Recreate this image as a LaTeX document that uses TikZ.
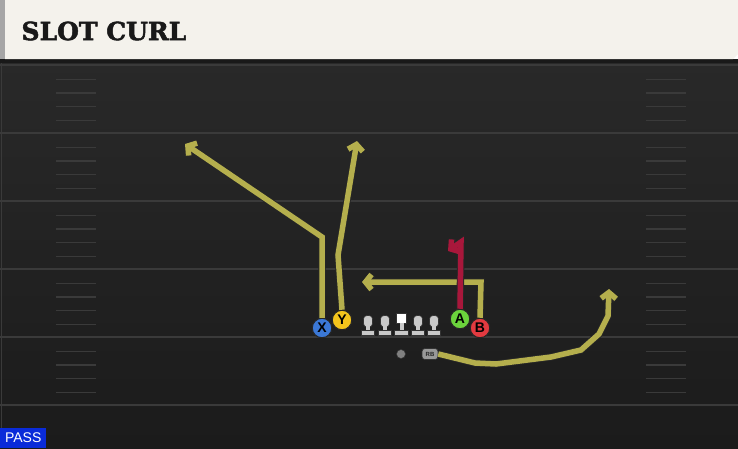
\documentclass[tikz,border=0pt]{standalone}
\usepackage{fontspec}
\setmainfont{DejaVu Serif}
\newfontfamily\titlefont[BoldFeatures={FakeBold=2}]{DejaVu Serif}
\newfontfamily\labelfont{Liberation Sans}
\usepackage{xcolor}
\usepackage{tikz}
\usetikzlibrary{arrows.meta,calc,backgrounds}

\definecolor{fieldtop}{HTML}{292929}
\definecolor{fieldbot}{HTML}{1B1B1B}
\definecolor{yardline}{HTML}{3A3A3A}
\definecolor{headercream}{HTML}{F4F2EC}
\definecolor{routeyellow}{HTML}{B5AF4D}
\definecolor{routered}{HTML}{A8173B}
\definecolor{xblue}{HTML}{3B78D6}
\definecolor{yyellow}{HTML}{F3C41C}
\definecolor{agreen}{HTML}{6BD33C}
\definecolor{bred}{HTML}{E23A40}
\definecolor{passblue}{HTML}{0A2BD9}
\definecolor{linegray}{HTML}{C9C9C9}

\begin{document}
\begin{tikzpicture}[x=1pt,y=-1pt]
        % Define the styles for players and routes
        \tikzstyle{player}=[circle, minimum size=19.5pt, inner sep=0pt, draw=black!85, line width=1pt, font=\labelfont\bfseries\fontsize{14}{14}\selectfont];
        \tikzstyle{route}=[draw=routeyellow, line width=5.5pt, line join=miter, preaction={draw=black!85, line width=7.3pt}, -{Straight Barb[length=6pt,width=15pt]}];
        \tikzstyle{hotroute}=[route, draw=routered];
        
        % Fix the size of the picture
        \useasboundingbox (0,0) rectangle (738,448);
        
        % Draw the field and the header
        \shade[top color=fieldtop, bottom color=fieldbot] (0,59) rectangle (738,448);
        \fill[black!90] (0,59) rectangle (738,63);
        \fill[headercream] (5,0) -- (738,0) -- (738,54) -- (733,59) -- (5,59) -- cycle;
        \fill[black!35] (0,0) rectangle (5,59);
        \draw[yardline, line width=1pt] (1,63) -- (1,448);
        
        % Yard lines and hash marks
        \foreach \y in {65,133,201,269,337,405}
            \draw[yardline, line width=2pt] (0,\y) -- (738,\y);
        \foreach \y in {65,133,201,269,337}
            \foreach \d in {14.5,28,41.5,55.5} {
                \draw[yardline, line width=1.5pt] (56,\y+\d) -- (96,\y+\d);
                \draw[yardline, line width=1.5pt] (646,\y+\d) -- (686,\y+\d);
            }
        
        % Title of the play
        \node[anchor=west, text=black!90, font=\titlefont\bfseries\fontsize{25}{25}\selectfont] (title) at (18,31) {SLOT CURL};
        
        % Offensive line
        \foreach \x in {368,385,418,434} {
            \fill[linegray, draw=black!80, line width=0.6pt, rounded corners=3.5pt] (\x-4.5,315.5) rectangle (\x+4.5,327);
            \fill[linegray] (\x-2,326) rectangle (\x+2,330.5);
            \fill[linegray, draw=black!80, line width=0.6pt] (\x-6.5,330) rectangle (\x+6.5,335);
        }
        \fill[white, draw=black!80, line width=0.6pt] (396.5,313) rectangle (406.5,323);
        \fill[linegray] (399.5,323) rectangle (403.5,330.5);
        \fill[linegray, draw=black!80, line width=0.6pt] (394.5,330) rectangle (408.5,335);
        
        % Quarterback and running back
        \node[circle, fill=black!50, draw=black!80, line width=0.5pt, minimum size=9pt, inner sep=0pt] (QB) at (401,354) {};
        \node[fill=black!40, draw=black!80, line width=0.6pt, rounded corners=3pt, minimum width=16pt, minimum height=11pt, inner sep=0pt, font=\labelfont\bfseries\fontsize{6}{6}\selectfont, text=black!85] (RB) at (430,354) {RB};
        
        % Receivers
        \node[player, fill=xblue] (X) at (322,328) {X};
        \node[player, fill=yyellow] (Y) at (342,320) {Y};
        \node[player, fill=agreen] (A) at (460,319) {A};
        \node[player, fill=bred] (B) at (480,328) {B};
        
        % Corners and ends of the routes
        \coordinate (xcut) at (322,237);
        \coordinate (xend) at (185,144);
        \coordinate (ybend) at (338,255);
        \coordinate (yend) at (357,141);
        \coordinate (bcut) at (481,282);
        \coordinate (bend) at (362,282);
        \coordinate (atop) at (461,242);
        \coordinate (aend) at (448,251);
        \coordinate (rbend) at (609,289);
        
        % Routes
        \draw[route] (X.north) -- (xcut) -- (xend);
        \draw[route] (Y.north) -- (ybend) -- (yend);
        \draw[route] (B.north) -- (bcut) -- (bend);
        \draw[hotroute] (A.north) -- (atop) -- (aend);
        \draw[route] (RB.east) -- (475,363) -- (496,364) -- (551,357) -- (581,350) -- (599,334) -- (608,316) -- (rbend);
        
        % Play type
        \node[fill=passblue, text=white, anchor=south west, minimum width=46pt, minimum height=20pt, inner sep=0pt, font=\labelfont\fontsize{14}{14}\selectfont] (pass) at (0,448) {PASS};
    \end{tikzpicture}
\end{document}
